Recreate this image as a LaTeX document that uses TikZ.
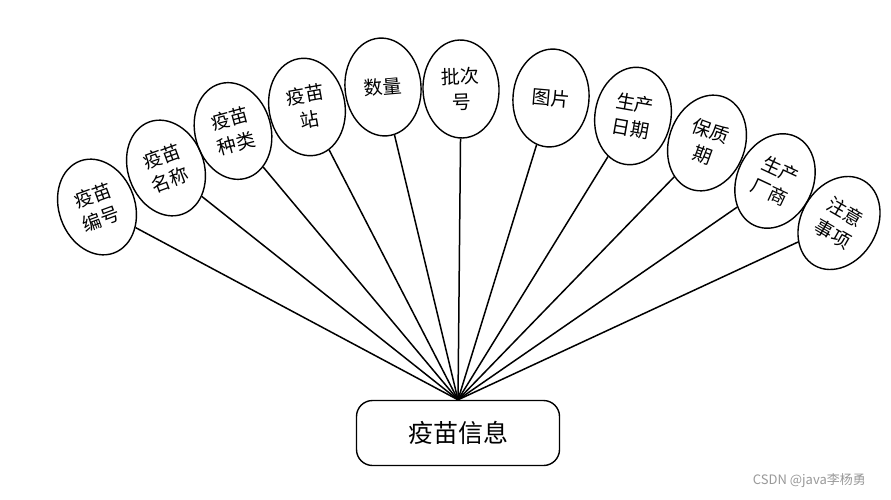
\documentclass[tikz,border=0pt]{standalone}
\usepackage{fontspec}
\newfontfamily\cjk{Noto Sans CJK SC}
\usetikzlibrary{shapes.geometric}
\tikzset{
  attr/.style={ellipse, draw=black, line width=1.4pt, minimum width=76pt, minimum height=98pt,
    inner sep=0pt, align=center, font=\cjk\fontsize{19}{25}\selectfont},
  entity/.style={draw=black, line width=1.4pt, rounded corners=16pt, minimum width=203pt,
    minimum height=65pt, inner sep=0pt, font=\cjk\fontsize{25}{30}\selectfont},
  link/.style={draw=black, line width=1.5pt}
}
\begin{document}
\begin{tikzpicture}[x=1pt, y=-1pt]
% page frame
\useasboundingbox (0,0) rectangle (891,500);
\fill[white] (0,0) rectangle (891,500);
% entity
\node[entity] (info) at (458,433) {疫苗信息};
% attributes
\node[attr, rotate=20] (code) at (97,207) {疫苗\\编号};
\node[attr, rotate=20] (name) at (166,168) {疫苗\\名称};
\node[attr, rotate=15] (kind) at (233,131) {疫苗\\种类};
\node[attr, rotate=10] (site) at (307,107) {疫苗\\站};
\node[attr, rotate=5] (qty) at (383,87) {数量};
\node[attr, rotate=2] (batch) at (461,89) {批次\\号};
\node[attr, rotate=-5] (pic) at (551,98) {图片};
\node[attr, rotate=-10] (made) at (633,116) {生产\\日期};
\node[attr, rotate=-20] (shelf) at (707,143) {保质\\期};
\node[attr, rotate=-25] (maker) at (775,181) {生产\\厂商};
\node[attr, rotate=-30] (note) at (839,223) {注意\\事项};
% connectors
\draw[link] (code) -- (info.north);
\draw[link] (name) -- (info.north);
\draw[link] (kind) -- (info.north);
\draw[link] (site) -- (info.north);
\draw[link] (qty) -- (info.north);
\draw[link] (batch) -- (info.north);
\draw[link] (pic) -- (info.north);
\draw[link] (made) -- (info.north);
\draw[link] (shelf) -- (info.north);
\draw[link] (maker) -- (info.north);
\draw[link] (note) -- (info.north);
% watermark
\node[anchor=east, text=black!40, font=\cjk\fontsize{13}{15}\selectfont, inner sep=0pt] (mark) at (866,481) {CSDN @java李杨勇};
\end{tikzpicture}
\end{document}
